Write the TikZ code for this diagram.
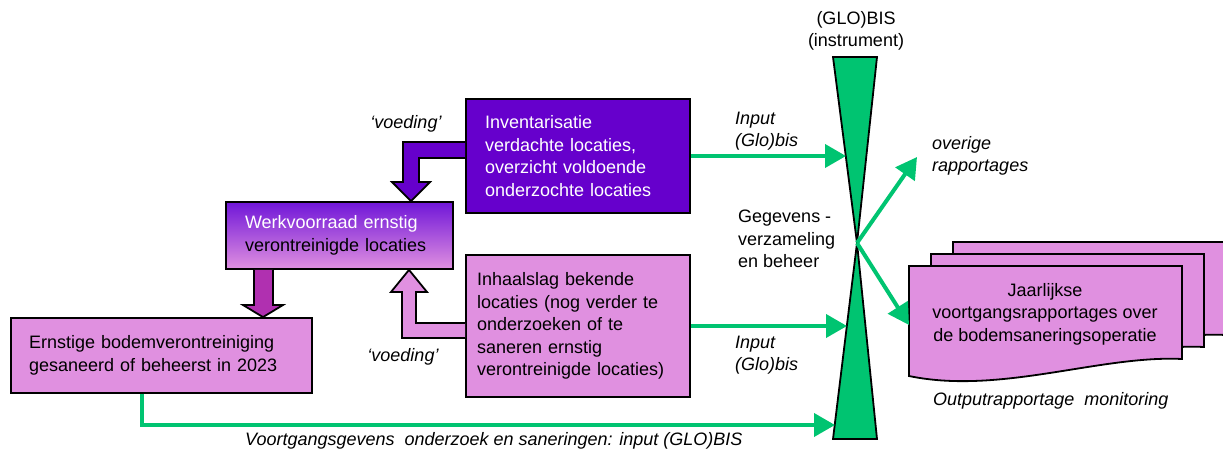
\documentclass[tikz,border=0pt]{standalone}
\usepackage{fontspec}
\setmainfont{Liberation Sans}
\usetikzlibrary{arrows.meta}
\definecolor{inventory}{RGB}{102,0,204}
\definecolor{stock}{RGB}{112,22,216}
\definecolor{pinkbox}{RGB}{224,144,224}
\definecolor{plum}{RGB}{176,48,176}
\definecolor{bisgreen}{RGB}{0,196,113}

\begin{document}
\begin{tikzpicture}[x=1pt,y=-1pt,
    box/.style={draw,line width=1.8pt,align=left,inner ysep=0pt,
      font=\fontsize{18}{22.6}\selectfont},
    note/.style={inner sep=0pt,font=\fontsize{18}{22.6}\selectfont},
    remark/.style={inner sep=0pt,font=\fontsize{18}{22.6}\selectfont\itshape},
    flow/.style={draw=bisgreen,line width=4pt,-{Triangle[length=21pt,width=23pt]}},
    feed/.style={line width=1.8pt,draw=black},
    doc/.style={line width=1.8pt,draw=black,fill=pinkbox}]
    \useasboundingbox (0,0) rectangle (1223,452);

    \node[box,fill=inventory,text=white,minimum width=224pt,minimum height=114pt,
      inner xsep=19pt,text width=186pt] (inv) at (578,156)
      {Inventarisatie\\verdachte locaties,\\overzicht voldoende\\onderzochte locaties};
    \node[box,top color=stock,bottom color=pinkbox,minimum width=227pt,minimum height=67pt,
      inner xsep=19pt,text width=189pt] (werk) at (339.5,235.5)
      {\textcolor{white}{Werkvoorraad ernstig}\\verontreinigde locaties};
    \node[box,fill=pinkbox,minimum width=301pt,minimum height=75pt,
      inner xsep=18pt,text width=265pt] (ernst) at (161.5,355.5)
      {Ernstige bodemverontreiniging\\gesaneerd of beheerst in 2023};
    \node[box,fill=pinkbox,minimum width=224pt,minimum height=142pt,
      inner xsep=11pt,text width=202pt] (inh) at (578,326)
      {Inhaalslag bekende\\locaties (nog verder te\\onderzoeken of te\\saneren ernstig\\verontreinigde locaties)};

    % block arrows
    \filldraw[feed,fill=inventory] (inv.west |- 0,142) -- (403,142) -- (403,182) -- (392,182)
    -- (werk.north -| 411,0) -- (430,182) -- (419,182) -- (419,158) -- (inv.west |- 0,158);
    \filldraw[feed,fill=plum] (werk.south -| 254,0) -- (254,305) -- (243,305)
    -- (ernst.north -| 263,0) -- (283,305) -- (273,305) -- (werk.south -| 273,0);
    \filldraw[feed,fill=pinkbox] (inh.west |- 0,338) -- (402,338) -- (402,292) -- (391,292)
    -- (werk.south -| 409,0) -- (427,292) -- (416,292) -- (416,323) -- (inh.west |- 0,323);

    \node[remark] (feed1) at (406,124) {‘voeding’};
    \node[remark] (feed2) at (403,357) {‘voeding’};

    % (GLO)BIS
    \coordinate (hub) at (857,243);
    \filldraw[feed,fill=bisgreen] (833,57) -- (877,57) -- (hub) -- cycle;
    \filldraw[feed,fill=bisgreen] (hub) -- (877,439) -- (833,439) -- cycle;
    \node[note,align=center] (glo) at (856,31) {(GLO)BIS\\(instrument)};
    \node[note,anchor=west,align=left] (beheer) at (738,239)
      {Gegevens -\\verzameling\\en beheer};

    \coordinate (in1) at (846,156);
    \coordinate (in2) at (847,326);
    \coordinate (in3) at (835,425);
    \draw[flow] (inv) -- (in1);
    \draw[flow] (inh) -- (in2);
    \draw[flow,rounded corners=0pt] ([xshift=-19.5pt]ernst.south) |- (in3);
    \node[remark,anchor=west,align=left] (lbl1) at (735,131) {Input\\(Glo)bis};
    \node[remark,anchor=west,align=left] (lbl2) at (735,355) {Input\\(Glo)bis};
    \node[remark,anchor=west] (lbl3) at (245,441)
      {Voortgangsgevens\ \ onderzoek en saneringen: input (GLO)BIS};

    % reports
    \foreach \s in {2,1,0}
      \filldraw[doc,shift={({22*\s},{-12*\s})}] (909,266) -- (1182,266) -- (1182,359)
      .. controls (1100,355) and (1000,395) .. (909,376) -- cycle;
    \node[note,align=center] (jaar) at (1045,314)
      {Jaarlijkse\\voortgangsrapportages over\\de bodemsaneringsoperatie};
    \node[remark,anchor=west] (output) at (933,401) {Outputrapportage\ \ monitoring};
    \node[remark,anchor=west,align=left] (overig) at (932,156) {overige\\rapportages};

    \coordinate (out1) at (917,157);
    \coordinate (doc) at (909,325);
    \draw[flow] (hub) -- (out1);
    \draw[flow] (hub) -- (doc);
  \end{tikzpicture}
\end{document}
